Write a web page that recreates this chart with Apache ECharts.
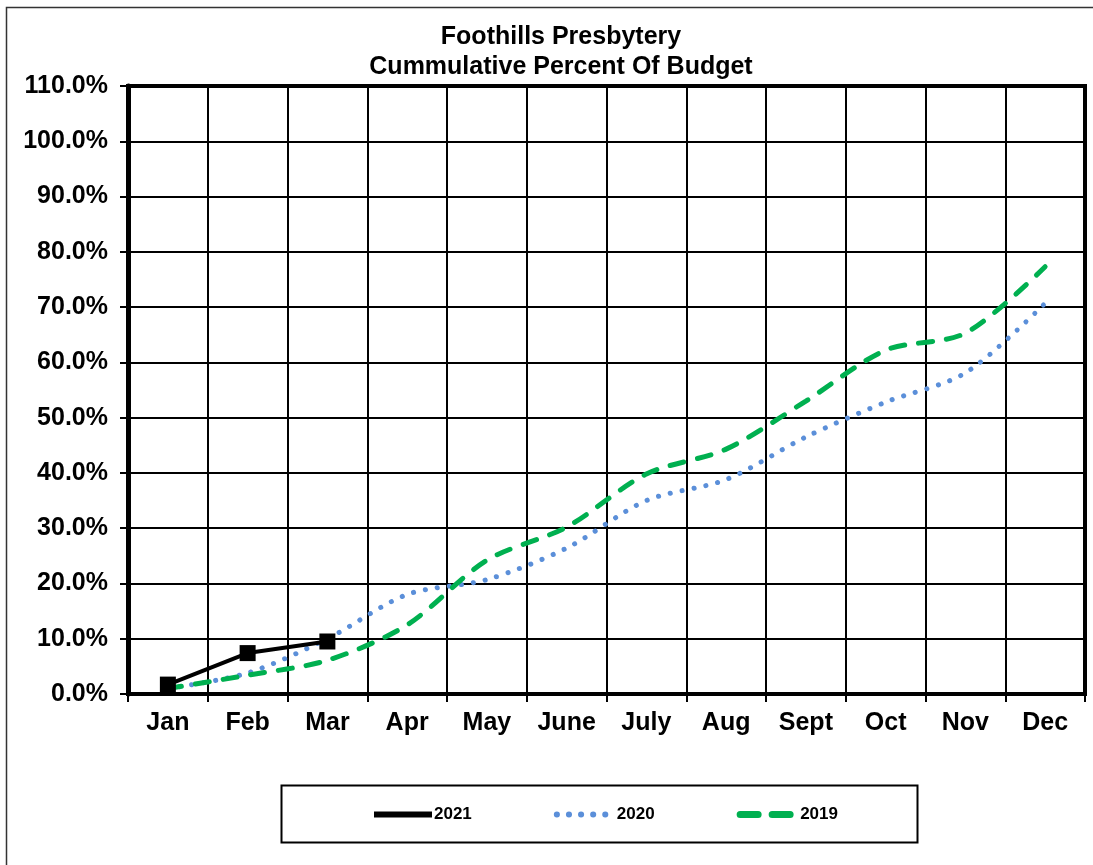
<!DOCTYPE html>
<html><head><meta charset="utf-8">
<script src="https://cdn.jsdelivr.net/npm/echarts@6/dist/echarts.min.js"></script>
<style>html,body{margin:0;padding:0;background:#fff}#c{width:1093px;height:865px}</style>
</head><body><div id="c"></div>
<script>
const months = ['Jan','Feb','Mar','Apr','May','June','July','Aug','Sept','Oct','Nov','Dec'];
const s2021 = [1.7, 7.4, 9.5];
const s2020 = [1.0, 3.8, 10.0, 18.0, 20.7, 26.4, 35.0, 38.8, 46.5, 52.8, 58.1, 70.7];
const s2019 = [1.0, 3.4, 6.1, 12.5, 24.2, 30.2, 39.8, 44.3, 53.0, 62.2, 65.3, 77.3];
const yMin = 0, yMax = 110, yStep = 10;

const FONT = '"Liberation Sans", Arial, sans-serif';
const chart = echarts.init(document.getElementById('c'), null, {renderer:'canvas'});
chart.setOption({
  animation: false,
  backgroundColor: '#fff',
  title: {
    text: 'Foothills Presbytery\nCummulative Percent Of Budget',
    left: 556, textAlign: 'center', top: 17,
    textStyle: {fontFamily: FONT, fontWeight: 'bold', fontSize: 25, color: '#000', lineHeight: 30}
  },
  graphic: [
    {type:'rect', shape:{x:6.5, y:7.5, width:1200, height:1000}, style:{fill:'none', stroke:'#333', lineWidth:1.5}, silent:true, z:-10},
    {type:'rect', shape:{x:281.5, y:785.5, width:636, height:57}, style:{fill:'#fff', stroke:'#000', lineWidth:2}, silent:true, z:-5}
  ],
  legend: {
    left: 366, top: 801, itemWidth: 58, itemHeight: 14, itemGap: 82,
    textStyle: {fontFamily: FONT, fontWeight: 'bold', fontSize: 17, color: '#000', padding:[0,0,0,-3]},
    data: [
      {name:'2021', itemStyle:{opacity:0}, lineStyle:{width:6}},
      {name:'2020', itemStyle:{opacity:0}, lineStyle:{width:6, type:[0.1, 12]}},
      {name:'2019', itemStyle:{opacity:0}, lineStyle:{width:7, type:[18, 14]}}
    ]
  },
  grid: {left: 128, right: 8, top: 86, bottom: 171, show: true, borderColor: '#000', borderWidth: 4, containLabel: false},
  xAxis: {
    type: 'category', data: months, boundaryGap: true,
    axisLine: {show: true, lineStyle: {color: '#000', width: 4}},
    axisTick: {show: true, length: 8, lineStyle: {color: '#000', width: 2}},
    splitLine: {show: true, lineStyle: {color: '#000', width: 2}},
    axisLabel: {fontFamily: FONT, fontWeight: 'bold', fontSize: 25, color: '#000', margin: 17}
  },
  yAxis: {
    type: 'value', min: yMin, max: yMax, interval: yStep,
    axisLine: {show: true, lineStyle: {color: '#000', width: 5}},
    axisTick: {show: true, length: 8, lineStyle: {color: '#000', width: 2}},
    splitLine: {show: true, lineStyle: {color: '#000', width: 2}},
    axisLabel: {fontFamily: FONT, fontWeight: 'bold', fontSize: 25, color: '#000', margin: 20,
      formatter: v => v.toFixed(1) + '%'}
  },
  series: [
    {name:'2021', type:'line', data: s2021, smooth: false, symbol:'rect', symbolSize: 16,
     itemStyle:{color:'#000'}, lineStyle:{color:'#000', width:4}, z: 5},
    {name:'2020', type:'line', data: s2020, smooth: 0.3, symbol:'none', showSymbol:false,
     itemStyle:{color:'#5b8fd9'}, lineStyle:{color:'#5b8fd9', width:5, type:[0.1, 12], cap:'round'}, z: 3},
    {name:'2019', type:'line', data: s2019, smooth: 0.3, symbol:'none', showSymbol:false,
     itemStyle:{color:'#00b050'}, lineStyle:{color:'#00b050', width:5, type:[14, 14], cap:'round'}, z: 4}
  ]
});
</script></body></html>
